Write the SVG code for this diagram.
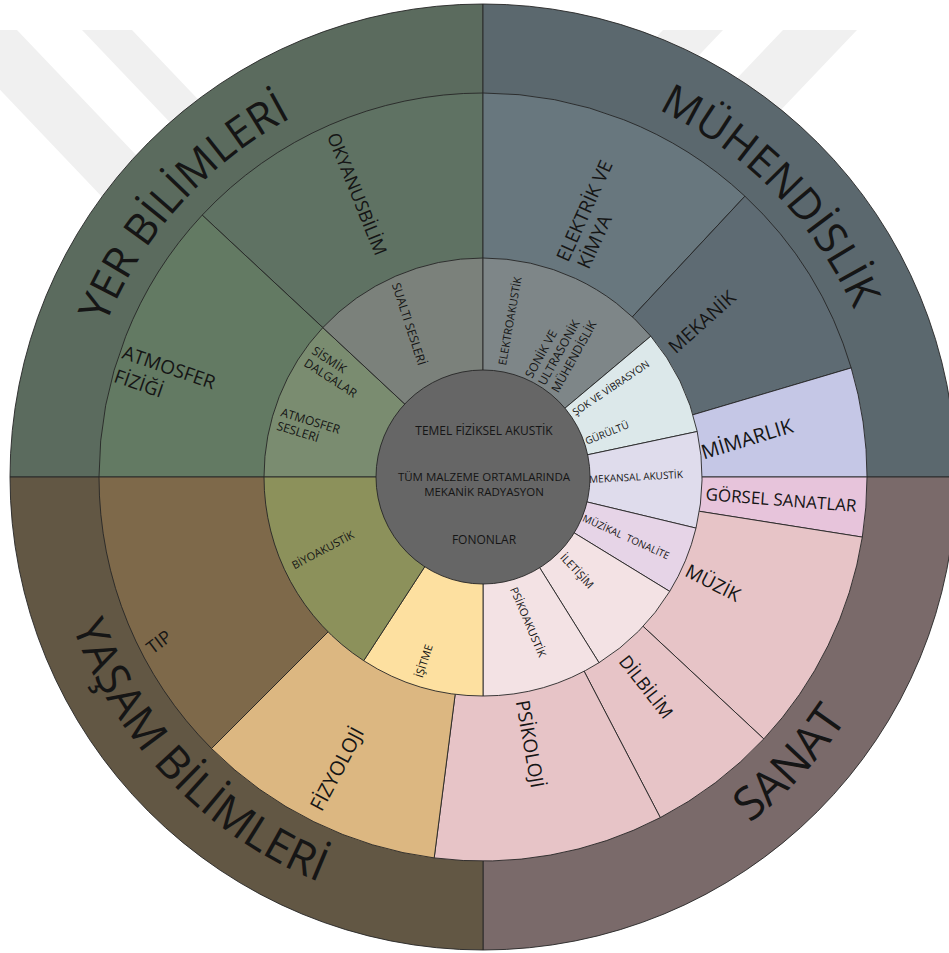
<svg xmlns="http://www.w3.org/2000/svg" xmlns:xlink="http://www.w3.org/1999/xlink" width="949" height="953" viewBox="0 0 949 953">
  <style>
    .seg { stroke: #262626; stroke-width: 0.9; stroke-linejoin: round; }
    .lbl { font-family: "Open Sans", "Noto Sans", "DejaVu Sans", sans-serif; fill: #151515; }
    .mid { text-anchor: middle; }
    .big { font-size: 43px; }
    .m19 { font-size: 19px; }
    .s12 { font-size: 12px; }
    .s11 { font-size: 11px; }
    .s10 { font-size: 10px; }
    .wm { fill: #f0f0f0; }
  </style>
  <defs>
    <!-- arcs for the outer ring titles (cw: letters face outward, ccw: letters face inward) -->
    <path id="arc-yer" d="M95.9,602.8 A407,407 0 0 1 567.6,78.9"/>
    <path id="arc-muh" d="M381.8,82.8 A407,407 0 0 1 875.0,586.4"/>
    <path id="arc-yasam" d="M62.9,356.6 A437,437 0 0 0 588.7,901.0"/>
    <path id="arc-sanat" d="M384.7,902.8 A437,437 0 0 0 900.9,349.2"/>
  </defs>

  <rect width="949" height="953" fill="#ffffff"/>

  <!-- faint watermark stripes behind the wheel -->
  <g id="watermark">
    <polygon class="wm" points="-57,30 17,30 445.6,480 371.6,480"/>
    <polygon class="wm" points="82,30 132,30 560.6,480 510.6,480"/>
    <polygon class="wm" points="663,30 723,30 294.4,480 234.4,480"/>
    <polygon class="wm" points="783,30 857,30 428.4,480 354.4,480"/>
  </g>

  <!-- outer ring: four fields -->
  <g id="yer-bilimleri">
    <path class="seg" fill="#5b6b5e" d="M483,477 L10,477 A473,473 0 0 1 483,4 Z"/>
    <text class="lbl big mid"><textPath xlink:href="#arc-yer" href="#arc-yer" startOffset="50%">YER BİLİMLERİ</textPath></text>
  </g>
  <g id="muhendislik">
    <path class="seg" fill="#5b686e" d="M483,477 L483,4 A473,473 0 0 1 956,477 Z"/>
    <text class="lbl big mid"><textPath xlink:href="#arc-muh" href="#arc-muh" startOffset="50%">MÜHENDİSLİK</textPath></text>
  </g>
  <g id="sanat">
    <path class="seg" fill="#7a6a6a" d="M483,477 L956,477 A473,473 0 0 1 483,950 Z"/>
    <text class="lbl mid" font-size="46"><textPath xlink:href="#arc-sanat" href="#arc-sanat" startOffset="50%">SANAT</textPath></text>
  </g>
  <g id="yasam-bilimleri">
    <path class="seg" fill="#625744" d="M483,477 L483,950 A473,473 0 0 1 10,477 Z"/>
    <text class="lbl mid" font-size="45"><textPath xlink:href="#arc-yasam" href="#arc-yasam" startOffset="50%">YAŞAM BİLİMLERİ</textPath></text>
  </g>

  <!-- middle ring -->
  <g id="okyanusbilim">
    <path class="seg" fill="#5f7263" d="M483,477 L202.2,215.1 A384,384 0 0 1 483,93 Z"/>
    <text class="lbl mid" font-size="18" transform="translate(357,194) rotate(68)" dy=".35em">OKYANUSBİLİM</text>
  </g>
  <g id="atmosfer-fizigi">
    <path class="seg" fill="#637a63" d="M483,477 L99,477 A384,384 0 0 1 202.2,215.1 Z"/>
    <text class="lbl m19" transform="translate(121,358) rotate(19)"><tspan x="0" y="0">ATMOSFER</tspan><tspan x="0" y="25">FİZİĞİ</tspan></text>
  </g>
  <g id="elektrik-ve-kimya">
    <path class="seg" fill="#68777e" d="M483,477 L483,93 A384,384 0 0 1 744.9,196.2 Z"/>
    <text class="lbl m19" transform="translate(568,263) rotate(-65.5)"><tspan x="0" y="0">ELEKTRİK VE</tspan><tspan x="2" y="22">KİMYA</tspan></text>
  </g>
  <g id="mekanik">
    <path class="seg" fill="#5e6b73" d="M483,477 L744.9,196.2 A384,384 0 0 1 851.2,367.9 Z"/>
    <text class="lbl m19 mid" transform="translate(702,322) rotate(-42)" dy=".35em">MEKANİK</text>
  </g>
  <g id="mimarlik">
    <path class="seg" fill="#c5c7e6" d="M483,477 L851.2,367.9 A384,384 0 0 1 867,477 Z"/>
    <text class="lbl mid" font-size="20" transform="translate(747,439) rotate(-17)" dy=".35em">MİMARLIK</text>
  </g>
  <g id="gorsel-sanatlar">
    <path class="seg" fill="#e7c4db" d="M483,477 L867,477 A384,384 0 0 1 862.3,537.1 Z"/>
    <text class="lbl mid" font-size="17" transform="translate(781,500) rotate(4.5)" dy=".35em">GÖRSEL SANATLAR</text>
  </g>
  <g id="muzik">
    <path class="seg" fill="#e7c4c7" d="M483,477 L862.3,537.1 A384,384 0 0 1 763.8,738.9 Z"/>
    <text class="lbl m19 mid" transform="translate(713,583) rotate(27)" dy=".35em">MÜZİK</text>
  </g>
  <g id="dilbilim">
    <path class="seg" fill="#e7c4c7" d="M483,477 L763.8,738.9 A384,384 0 0 1 660.3,817.6 Z"/>
    <text class="lbl mid" font-size="18" transform="translate(646,687) rotate(52)" dy=".35em">DİLBİLİM</text>
  </g>
  <g id="psikoloji">
    <path class="seg" fill="#e7c4c7" d="M483,477 L660.3,817.6 A384,384 0 0 1 434.2,857.9 Z"/>
    <text class="lbl m19 mid" transform="translate(530,744) rotate(80)" dy=".35em">PSİKOLOJİ</text>
  </g>
  <g id="fizyoloji">
    <path class="seg" fill="#dcb781" d="M483,477 L434.2,857.9 A384,384 0 0 1 211.5,748.5 Z"/>
    <text class="lbl mid" font-size="20" transform="translate(337,769) rotate(-62)" dy=".35em">FİZYOLOJİ</text>
  </g>
  <g id="tip">
    <path class="seg" fill="#7e694a" d="M483,477 L211.5,748.5 A384,384 0 0 1 99,477 Z"/>
    <text class="lbl mid" font-size="18" transform="translate(159,642) rotate(-37)" dy=".35em">TIP</text>
  </g>

  <!-- inner ring -->
  <g id="sismik-atmosfer-sesleri">
    <path class="seg" fill="#7a8c70" d="M483,477 L264,477 A219,219 0 0 1 322.8,327.6 Z"/>
    <text class="lbl s12" transform="translate(311,353) rotate(33)"><tspan x="0" y="0">SİSMİK</tspan><tspan x="0" y="14.5">DALGALAR</tspan></text>
    <text class="lbl s12" transform="translate(280,416) rotate(17)"><tspan x="0" y="0">ATMOSFER</tspan><tspan x="0" y="14">SESLERİ</tspan></text>
  </g>
  <g id="sualti-sesleri">
    <path class="seg" fill="#7b817b" d="M483,477 L322.8,327.6 A219,219 0 0 1 483,258 Z"/>
    <text class="lbl s12 mid" transform="translate(409,324) rotate(72)" dy=".35em">SUALTI SESLERİ</text>
  </g>
  <g id="elektroakustik-sonik">
    <path class="seg" fill="#7e8688" d="M483,477 L483,258 A219,219 0 0 1 650.8,336.2 Z"/>
    <text class="lbl s11 mid" transform="translate(510,321) rotate(-80)" dy=".35em">ELEKTROAKUSTİK</text>
    <text class="lbl s12" transform="translate(532,379) rotate(-61)"><tspan x="0" y="0">SONİK VE</tspan><tspan x="0" y="15">ULTRASONİK</tspan><tspan x="0" y="30">MÜHENDİSLİK</tspan></text>
  </g>
  <g id="sok-gurultu">
    <path class="seg" fill="#dce8ea" d="M483,477 L650.8,336.2 A219,219 0 0 1 697.2,431.5 Z"/>
    <text class="lbl s10 mid" transform="translate(611,388) rotate(-34)" dy=".35em">ŞOK VE VİBRASYON</text>
    <text class="lbl s10 mid" transform="translate(607,433) rotate(-22)" dy=".35em">GÜRÜLTÜ</text>
  </g>
  <g id="mekansal-akustik">
    <path class="seg" fill="#dfdcec" d="M483,477 L697.2,431.5 A219,219 0 0 1 696.0,528.1 Z"/>
    <text class="lbl s10 mid" transform="translate(636,477) rotate(-3)" dy=".35em">MEKANSAL AKUSTİK</text>
  </g>
  <g id="muzikal-tonalite">
    <path class="seg" fill="#e6d4e7" d="M483,477 L696.0,528.1 A219,219 0 0 1 669.7,591.4 Z"/>
    <text class="lbl s10 mid" xml:space="preserve" transform="translate(626,537) rotate(24.5)" dy=".35em">MÜZİKAL  TONALİTE</text>
  </g>
  <g id="iletisim">
    <path class="seg" fill="#f3e2e4" d="M483,477 L669.7,591.4 A219,219 0 0 1 599.0,662.7 Z"/>
    <text class="lbl s11 mid" transform="translate(577,571) rotate(47)" dy=".35em">İLETİŞİM</text>
  </g>
  <g id="psikoakustik">
    <path class="seg" fill="#f3e2e4" d="M483,477 L599.0,662.7 A219,219 0 0 1 483,696 Z"/>
    <text class="lbl s11 mid" transform="translate(528,622) rotate(67)" dy=".35em">PSİKOAKUSTİK</text>
  </g>
  <g id="isitme">
    <path class="seg" fill="#fde0a0" d="M483,477 L483,696 A219,219 0 0 1 363.7,660.7 Z"/>
    <text class="lbl s11 mid" transform="translate(424,661) rotate(-72)" dy=".35em">İŞİTME</text>
  </g>
  <g id="biyoakustik">
    <path class="seg" fill="#8c915b" d="M483,477 L363.7,660.7 A219,219 0 0 1 264,477 Z"/>
    <text class="lbl s11 mid" transform="translate(323,550) rotate(-28)" dy=".35em">BİYOAKUSTİK</text>
  </g>

  <!-- core -->
  <g id="temel-fiziksel-akustik">
    <circle class="seg" cx="483" cy="477" r="107" fill="#666666"/>
    <text class="lbl s12 mid" x="484" y="435">TEMEL FİZİKSEL AKUSTİK</text>
    <text class="lbl mid" font-size="11.5" x="484" y="480.5">TÜM MALZEME ORTAMLARINDA</text>
    <text class="lbl mid" font-size="11.5" x="484" y="496">MEKANİK RADYASYON</text>
    <text class="lbl s12 mid" x="484" y="544">FONONLAR</text>
  </g>
</svg>
